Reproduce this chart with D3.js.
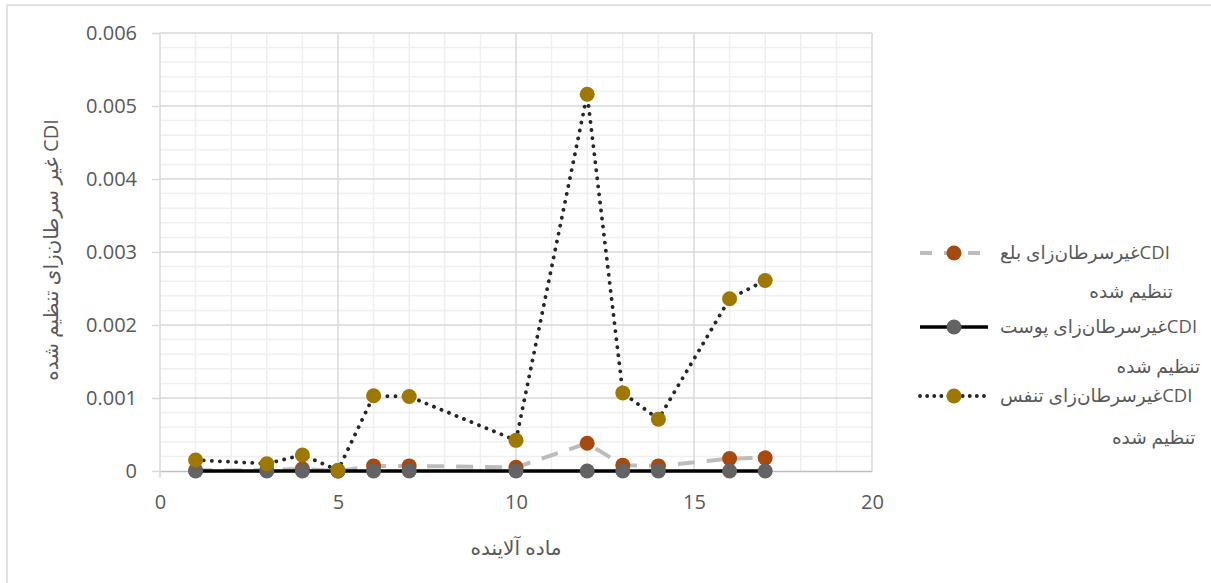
<!DOCTYPE html>
<html>
<head>
<meta charset="utf-8">
<script src="https://cdn.jsdelivr.net/npm/d3@7"></script>
<style>
  body { margin: 0; background: #fff; }
  svg { display: block; }
  text { font-family: "Open Sans", "DejaVu Sans", sans-serif; fill: #595959; }
</style>
</head>
<body>
<svg width="1211" height="583"></svg>
<script>
// pollutant number (x) and the three adjusted non-carcinogenic CDI series
var pollutants = [1, 3, 4, 5, 6, 7, 10, 12, 13, 14, 16, 17];
var ingestion = [0.00001, 0.00001, 0.00003, 0.0, 0.00007, 0.00007, 0.00005, 0.00038, 0.00008, 0.00007, 0.00017, 0.00018];
var dermal = [0, 0, 0, 0, 0, 0, 0, 0, 0, 0, 0, 0];
var inhalation = [0.00015, 0.0001, 0.00022, 0.00001, 0.00103, 0.00102, 0.00042, 0.00516, 0.00107, 0.00071, 0.00236, 0.00261];

var xTicks = [0, 5, 10, 15, 20];
var yTicks = [0, 0.001, 0.002, 0.003, 0.004, 0.005, 0.006];

var seriesNames = [
    ["CDIغیرسرطان‌زای بلع", "تنظیم شده"],
    ["CDIغیرسرطان‌زای پوست", "تنظیم شده"],
    ["CDIغیرسرطان‌زای تنفس", "تنظیم شده"]
];
var yTitle = "CDI غیر سرطان‌زای تنظیم شده";
var xTitle = "ماده آلاینده";

var series = [
    { name: seriesNames[0], values: ingestion, line: "#bcbcbc", dash: "17,12", cap: "butt", width: 4, marker: "#a64a10" },
    { name: seriesNames[1], values: dermal, line: "#000000", dash: null, cap: "butt", width: 3.5, marker: "#636363" },
    { name: seriesNames[2], values: inhalation, line: "#262626", dash: "0.1,8", cap: "round", width: 3.8, marker: "#9e7800" }
];

var svg = d3.select("svg");

// chart border
svg.append("rect")
    .attr("x", 7).attr("y", 5)
    .attr("width", 1220).attr("height", 600)
    .attr("fill", "none")
    .attr("stroke", "#d9d9d9")
    .attr("stroke-width", 1.5);

var x = d3.scaleLinear().domain([0, 20]).range([160, 872]);
var y = d3.scaleLinear().domain([0, 0.006]).range([471, 33]);

// minor grid
var g = svg.append("g");
g.selectAll(".vminor")
    .data(d3.range(1, 21).filter(function (d) { return d % 5 != 0; }))
    .enter().append("line")
    .attr("x1", function (d) { return x(d); })
    .attr("x2", function (d) { return x(d); })
    .attr("y1", y(0)).attr("y2", y(0.006))
    .attr("stroke", "#efefef").attr("stroke-width", 1.5);

g.selectAll(".hminor")
    .data(d3.range(1, 30).filter(function (d) { return d % 5 != 0; }))
    .enter().append("line")
    .attr("x1", x(0)).attr("x2", x(20))
    .attr("y1", function (d) { return y(d * 0.0002); })
    .attr("y2", function (d) { return y(d * 0.0002); })
    .attr("stroke", "#efefef").attr("stroke-width", 1.5);

// major grid
g.selectAll(".vmajor")
    .data(xTicks.slice(1))
    .enter().append("line")
    .attr("x1", function (d) { return x(d); })
    .attr("x2", function (d) { return x(d); })
    .attr("y1", y(0)).attr("y2", y(0.006))
    .attr("stroke", "#d9d9d9").attr("stroke-width", 1.5);

g.selectAll(".hmajor")
    .data(yTicks.slice(1))
    .enter().append("line")
    .attr("x1", x(0)).attr("x2", x(20))
    .attr("y1", function (d) { return y(d); })
    .attr("y2", function (d) { return y(d); })
    .attr("stroke", "#d9d9d9").attr("stroke-width", 1.5);

// axes
var yAxis = d3.axisLeft(y).tickValues(yTicks).tickSize(8).tickPadding(15)
    .tickFormat(function (d) { return d === 0 ? "0" : d3.format(".3f")(d); });
var yg = svg.append("g").attr("transform", "translate(" + x(0) + ",0)").call(yAxis);
yg.select(".domain").attr("stroke", "#d9d9d9").attr("stroke-width", 1.5)
    .attr("d", "M0," + y(0.006) + "V" + (y(0) + 7));
yg.selectAll(".tick line").attr("stroke", "#d9d9d9").attr("stroke-width", 1.5);
yg.selectAll(".tick text").attr("font-size", 20).attr("fill", "#595959")
    .style("font-family", "'Open Sans', sans-serif");

var xAxis = d3.axisBottom(x).tickValues(xTicks).tickSize(0).tickPadding(24);
var xg = svg.append("g").attr("transform", "translate(0," + y(0) + ")").call(xAxis);
xg.select(".domain").attr("stroke", "#bfbfbf").attr("stroke-width", 1.5);
xg.selectAll(".tick text").attr("font-size", 20).attr("fill", "#595959")
    .style("font-family", "'Open Sans', sans-serif");

// axis titles
svg.append("text")
    .attr("transform", "translate(58,250) rotate(-90)")
    .attr("text-anchor", "middle")
    .attr("direction", "rtl")
    .attr("font-size", 20)
    .text(yTitle);

svg.append("text")
    .attr("x", 516).attr("y", 555)
    .attr("text-anchor", "middle")
    .attr("direction", "rtl")
    .attr("font-size", 20)
    .text(xTitle);

// series
var line = d3.line()
    .x(function (d) { return x(d[0]); })
    .y(function (d) { return y(d[1]); });

series.forEach(function (s) {
    var pts = pollutants.map(function (p, i) { return [p, s.values[i]]; });
    var sg = svg.append("g");
    sg.append("path")
        .attr("d", line(pts))
        .attr("fill", "none")
        .attr("stroke", s.line)
        .attr("stroke-width", s.width)
        .attr("stroke-linecap", s.cap)
        .attr("stroke-dasharray", s.dash);
    sg.selectAll("circle")
        .data(pts)
        .enter().append("circle")
        .attr("cx", function (d) { return x(d[0]); })
        .attr("cy", function (d) { return y(d[1]); })
        .attr("r", 7.5)
        .attr("fill", s.marker);
});

// legend
var legendRows = [253, 327, 396];
var legendLine2 = [292, 367, 438];
series.forEach(function (s, i) {
    var lg = svg.append("g");
    var ly = legendRows[i];
    lg.append("line")
        .attr("x1", 920).attr("x2", 988)
        .attr("y1", ly).attr("y2", ly)
        .attr("stroke", s.line)
        .attr("stroke-width", s.width)
        .attr("stroke-linecap", s.cap)
        .attr("stroke-dasharray", s.dash ? (s.cap == "round" ? "0.1,7" : "12,12") : null);
    lg.append("circle")
        .attr("cx", 954).attr("cy", ly).attr("r", 7.5)
        .attr("fill", s.marker);
    var t1 = lg.append("text")
        .attr("x", 1000).attr("y", ly + 6)
        .attr("font-size", 18.5)
        .attr("text-anchor", "end")
        .attr("direction", "rtl")
        .text(s.name[0]);
    var w = t1.node().getComputedTextLength();
    lg.append("text")
        .attr("x", 1000 + w + 3).attr("y", legendLine2[i] + 6)
        .attr("font-size", 18.5)
        .attr("text-anchor", "start")
        .attr("direction", "rtl")
        .text(s.name[1]);
});
</script>
</body>
</html>
